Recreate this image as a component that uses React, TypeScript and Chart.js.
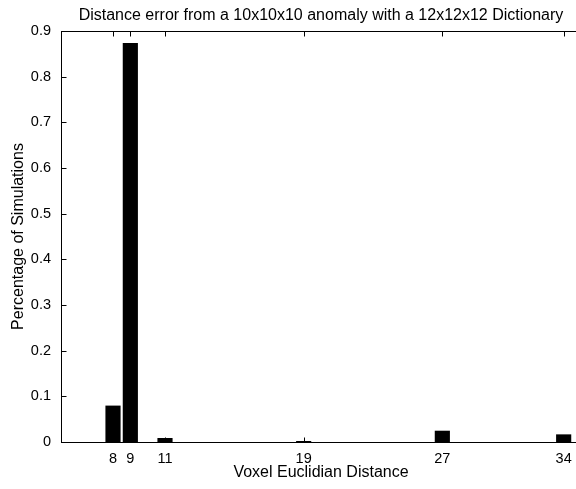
import React, { useEffect, useRef } from "react";
import { Chart, registerables } from "chart.js";

Chart.register(...registerables);

const titleText = "Distance error from a 10x10x10 anomaly with a 12x12x12 Dictionary";
const xAxisTitle = "Voxel Euclidian Distance";
const yAxisTitle = "Percentage of Simulations";
const distances = [8, 9, 11, 19, 27, 34];
const percentages = [0.079, 0.873, 0.008, 0.0015, 0.024, 0.016];
const xTickValues = [8, 9, 11, 19, 27, 34];
const xRange = [5, 35];
const yRange = [0, 0.9];
const yStep = 0.1;

const FONT = '"Liberation Sans", Arial, Helvetica, sans-serif';
const TICK_SIZE = 14.5;
const LABEL_SIZE = 16;

const boxPlugin = {
  id: "matlabBox",
  afterDatasetsDraw(chart: any) {
    const { ctx, chartArea: a, scales } = chart;
    ctx.save();
    ctx.strokeStyle = "#000";
    ctx.lineWidth = 1;
    const l = Math.round(a.left) + 0.5;
    const t = Math.round(a.top) + 0.5;
    const r = Math.round(a.right) + 0.5;
    const b = Math.round(a.bottom) + 0.5;
    ctx.strokeRect(l, t, r - l, b - t);
    const L = 5;
    ctx.beginPath();
    scales.x.ticks.forEach((tk: any) => {
      const x = Math.round(scales.x.getPixelForValue(tk.value)) + 0.5;
      ctx.moveTo(x, b);
      ctx.lineTo(x, b - L);
      ctx.moveTo(x, t);
      ctx.lineTo(x, t + L);
    });
    scales.y.ticks.forEach((tk: any) => {
      const y = Math.round(scales.y.getPixelForValue(tk.value)) + 0.5;
      ctx.moveTo(l, y);
      ctx.lineTo(l + L, y);
      ctx.moveTo(r, y);
      ctx.lineTo(r - L, y);
    });
    ctx.stroke();
    ctx.fillStyle = "#000";
    ctx.font = `${LABEL_SIZE}px ${FONT}`;
    ctx.textAlign = "center";
    ctx.textBaseline = "alphabetic";
    ctx.fillText(titleText, (a.left + a.right) / 2, 20);
    ctx.restore();
  },
};

export default function App() {
  const ref = useRef<HTMLCanvasElement | null>(null);
  useEffect(() => {
    if (!ref.current) return;
    const chart = new Chart(ref.current, {
      type: "bar",
      data: {
        datasets: [
          {
            data: distances.map((d, i) => ({ x: d, y: percentages[i] })),
            backgroundColor: "#000",
            borderColor: "#000",
            borderWidth: 0,
            barThickness: 14.5,
          },
        ],
      },
      options: {
        responsive: false,
        animation: false,
        devicePixelRatio: 1,
        layout: { padding: { top: 31, left: 0, right: 19, bottom: 0 } },
        plugins: {
          legend: { display: false },
          tooltip: { enabled: false },
          title: { display: false },
        },
        scales: {
          x: {
            type: "linear",
            offset: false,
            min: xRange[0],
            max: xRange[1],
            grid: { display: false, drawTicks: false, offset: false },
            border: { display: false },
            afterBuildTicks: (scale: any) => {
              scale.ticks = xTickValues.map((v) => ({ value: v }));
            },
            afterFit: (scale: any) => {
              scale.height = 47;
            },
            ticks: {
              padding: 8,
              color: "#000",
              font: { family: FONT, size: TICK_SIZE },
              maxRotation: 0,
              autoSkip: false,
              callback: (v: any) => String(v),
            },
            title: {
              display: true,
              text: xAxisTitle,
              color: "#000",
              font: { family: FONT, size: LABEL_SIZE },
              padding: { top: 0, bottom: 7 },
            },
          },
          y: {
            type: "linear",
            min: yRange[0],
            max: yRange[1],
            grid: { display: false, drawTicks: false },
            border: { display: false },
            afterFit: (scale: any) => {
              scale.width = 61;
            },
            ticks: {
              stepSize: yStep,
              padding: 10,
              color: "#000",
              font: { family: FONT, size: TICK_SIZE },
              callback: (v: any) => (Number(v) === 0 ? "0" : Number(v).toFixed(1)),
            },
            title: {
              display: true,
              text: yAxisTitle,
              color: "#000",
              font: { family: FONT, size: LABEL_SIZE },
              padding: { top: 9, bottom: 0 },
            },
          },
        },
      },
      plugins: [boxPlugin],
    });
    return () => chart.destroy();
  }, []);
  return (
    <div
      style={{
        position: "fixed",
        left: 0,
        top: 0,
        width: 576,
        height: 489,
        overflow: "hidden",
        background: "#fff",
      }}
    >
      <canvas ref={ref} width={600} height={489} style={{ display: "block" }} />
    </div>
  );
}
